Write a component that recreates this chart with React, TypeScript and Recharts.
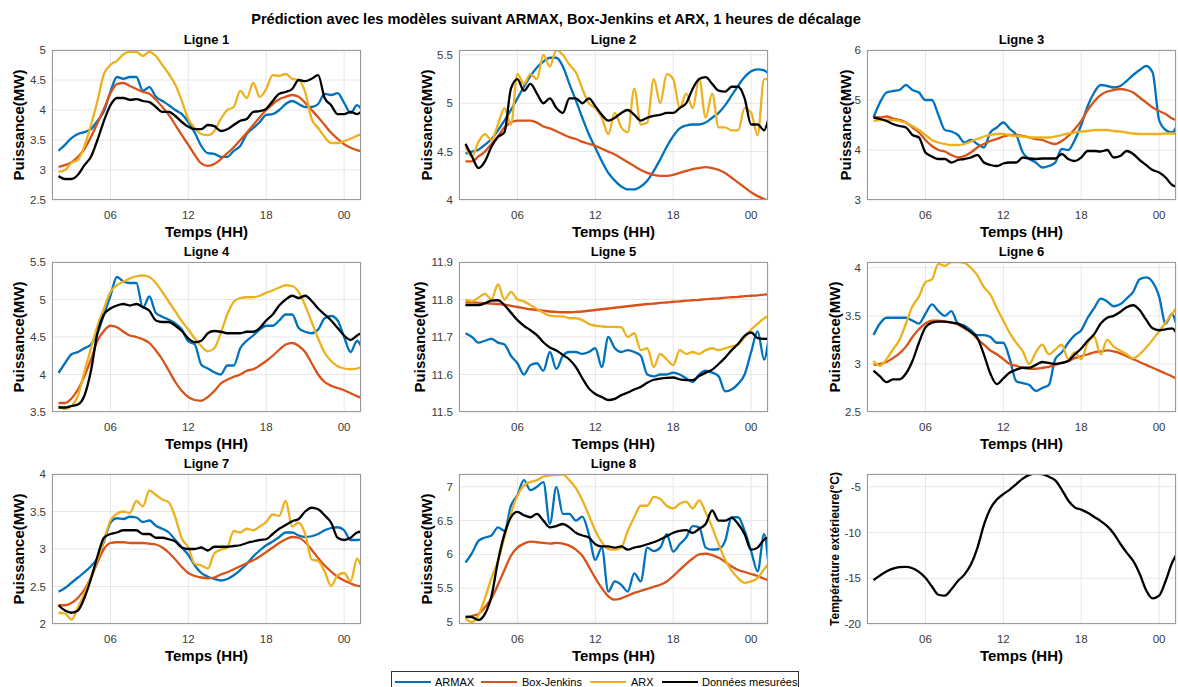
import React from 'react';
import { LineChart, Line, XAxis, YAxis, CartesianGrid } from 'recharts';

// ---------- data ----------
const TIMES = [2, 2.5, 3, 3.5, 4, 4.5, 5, 5.5, 6, 6.5, 7, 7.5, 8, 8.5, 9, 9.5, 10, 10.5, 11, 11.5, 12, 12.5, 13, 13.5, 14, 14.5, 15, 15.5, 16, 16.5, 17, 17.5, 18, 18.5, 19, 19.5, 20, 20.5, 21, 21.5, 22, 22.5, 23, 23.5, 24, 24.5, 25, 25.3];
const X_TICKS = [6, 12, 18, 24];
const X_TICK_LABELS = ['06', '12', '18', '00'];

const L1_ARMAX = [3.32, 3.42, 3.53, 3.6, 3.63, 3.68, 3.82, 3.98, 4.3, 4.55, 4.52, 4.55, 4.55, 4.32, 4.38, 4.22, 4.15, 4.08, 4.0, 3.93, 3.8, 3.62, 3.4, 3.28, 3.27, 3.22, 3.22, 3.32, 3.4, 3.6, 3.7, 3.8, 3.92, 3.93, 4.0, 4.1, 4.15, 4.1, 4.05, 4.05, 4.1, 4.27, 4.25, 4.28, 4.12, 3.95, 4.08, 4.02];
const L1_BJ = [3.05, 3.08, 3.13, 3.22, 3.35, 3.55, 3.78, 4.02, 4.28, 4.43, 4.45, 4.4, 4.35, 4.3, 4.27, 4.17, 4.05, 3.92, 3.75, 3.58, 3.42, 3.25, 3.11, 3.07, 3.1, 3.18, 3.28, 3.38, 3.5, 3.62, 3.75, 3.88, 4.0, 4.1, 4.18, 4.22, 4.25, 4.22, 4.12, 4.0, 3.88, 3.75, 3.62, 3.52, 3.43, 3.37, 3.33, 3.31];
const L1_ARX = [2.97, 3.0, 3.12, 3.17, 3.4, 3.75, 4.15, 4.6, 4.75, 4.82, 4.93, 4.97, 4.97, 4.9, 4.97, 4.9, 4.75, 4.6, 4.42, 4.15, 3.85, 3.7, 3.6, 3.58, 3.65, 3.85, 4.0, 4.05, 4.32, 4.2, 4.45, 4.22, 4.35, 4.58, 4.57, 4.6, 4.52, 4.5, 4.3, 3.85, 3.7, 3.55, 3.45, 3.45, 3.48, 3.52, 3.57, 3.6];
const L1_MES = [2.9, 2.85, 2.85, 2.92, 3.08, 3.22, 3.5, 3.82, 4.08, 4.2, 4.2, 4.17, 4.18, 4.15, 4.13, 4.05, 3.97, 3.97, 3.9, 3.8, 3.72, 3.68, 3.68, 3.75, 3.73, 3.65, 3.68, 3.75, 3.82, 3.85, 3.97, 3.98, 4.02, 4.15, 4.27, 4.3, 4.35, 4.5, 4.48, 4.52, 4.58, 4.2, 4.08, 3.93, 3.93, 3.97, 3.93, 3.97];

const L2_ARMAX = [4.48, 4.5, 4.52, 4.57, 4.63, 4.72, 4.82, 4.93, 5.05, 5.17, 5.28, 5.37, 5.43, 5.47, 5.47, 5.38, 5.2, 5.03, 4.85, 4.68, 4.54, 4.4, 4.28, 4.2, 4.14, 4.11, 4.11, 4.14, 4.2, 4.3, 4.42, 4.55, 4.66, 4.74, 4.77, 4.78, 4.78, 4.8, 4.85, 4.9, 4.98, 5.08, 5.18, 5.27, 5.33, 5.35, 5.34, 5.31];
const L2_BJ = [4.4, 4.4, 4.45, 4.5, 4.58, 4.66, 4.75, 4.8, 4.82, 4.82, 4.82, 4.8, 4.76, 4.74, 4.71, 4.68, 4.65, 4.63, 4.6, 4.58, 4.56, 4.53, 4.5, 4.47, 4.43, 4.39, 4.35, 4.31, 4.28, 4.26, 4.25, 4.25, 4.26, 4.28, 4.3, 4.32, 4.33, 4.34, 4.33, 4.31, 4.28, 4.23, 4.18, 4.13, 4.08, 4.04, 4.01, 4.0];
const L2_ARX = [4.55, 4.45, 4.6, 4.68, 4.62, 4.78, 4.95, 4.78, 5.3, 5.2, 5.3, 5.25, 5.5, 5.38, 5.55, 5.5, 5.4, 5.32, 5.15, 5.0, 4.95, 4.85, 4.68, 4.9, 4.75, 4.7, 5.15, 4.78, 4.8, 5.25, 5.0, 5.3, 5.25, 4.95, 5.1, 4.95, 5.25, 4.85, 5.1, 4.75, 4.75, 4.72, 4.72, 4.95, 4.9, 4.67, 5.25, 5.25];
const L2_MES = [4.58, 4.45, 4.33, 4.4, 4.55, 4.65, 4.7, 5.15, 5.25, 5.13, 5.2, 5.1, 5.0, 5.05, 4.95, 4.9, 5.05, 5.05, 5.0, 5.05, 4.97, 4.88, 4.82, 4.85, 4.9, 4.93, 4.88, 4.82, 4.85, 4.87, 4.88, 4.9, 4.9, 4.95, 5.0, 5.15, 5.25, 5.27, 5.2, 5.13, 5.12, 5.17, 5.17, 5.05, 4.78, 4.78, 4.72, 4.82];

const L3_ARMAX = [4.65, 4.95, 5.15, 5.18, 5.2, 5.3, 5.2, 5.15, 5.0, 5.0, 4.7, 4.4, 4.37, 4.3, 4.15, 4.2, 4.12, 4.05, 4.35, 4.45, 4.55, 4.42, 4.3, 3.95, 3.82, 3.75, 3.65, 3.68, 3.75, 4.02, 4.0, 4.2, 4.5, 4.88, 5.15, 5.3, 5.28, 5.25, 5.28, 5.38, 5.5, 5.6, 5.68, 5.55, 4.6, 4.4, 4.35, 4.45];
const L3_BJ = [4.65, 4.65, 4.67, 4.63, 4.6, 4.55, 4.45, 4.35, 4.2, 4.08, 4.0, 3.97, 3.9, 3.85, 3.88, 3.95, 4.05, 4.12, 4.18, 4.22, 4.27, 4.3, 4.3, 4.28, 4.25, 4.22, 4.2, 4.15, 4.12, 4.18, 4.28, 4.42, 4.58, 4.8, 4.97, 5.1, 5.17, 5.2, 5.22, 5.2, 5.15, 5.05, 4.95, 4.85, 4.78, 4.72, 4.63, 4.6];
const L3_ARX = [4.58, 4.6, 4.6, 4.6, 4.58, 4.55, 4.48, 4.4, 4.3, 4.2, 4.15, 4.12, 4.1, 4.1, 4.12, 4.17, 4.22, 4.27, 4.3, 4.32, 4.32, 4.3, 4.28, 4.27, 4.25, 4.25, 4.25, 4.25, 4.27, 4.3, 4.33, 4.35, 4.37, 4.38, 4.4, 4.4, 4.4, 4.38, 4.37, 4.35, 4.33, 4.32, 4.32, 4.32, 4.32, 4.33, 4.33, 4.33];
const L3_MES = [4.65, 4.62, 4.58, 4.52, 4.48, 4.45, 4.3, 4.25, 3.95, 3.87, 3.82, 3.82, 3.75, 3.8, 3.82, 3.85, 3.9, 3.75, 3.7, 3.68, 3.73, 3.75, 3.75, 3.85, 3.83, 3.82, 3.83, 3.83, 3.83, 3.92, 3.82, 3.78, 3.85, 3.98, 3.98, 3.97, 4.0, 3.85, 3.88, 3.98, 3.92, 3.8, 3.7, 3.6, 3.55, 3.45, 3.3, 3.27];

const L4_ARMAX = [4.02, 4.15, 4.27, 4.3, 4.35, 4.4, 4.55, 4.8, 5.05, 5.3, 5.24, 5.22, 5.22, 4.89, 5.04, 4.82, 4.77, 4.73, 4.68, 4.6, 4.44, 4.4, 4.13, 4.08, 4.03, 4.0, 4.12, 4.12, 4.35, 4.45, 4.52, 4.6, 4.65, 4.65, 4.72, 4.8, 4.8, 4.62, 4.57, 4.55, 4.6, 4.75, 4.78, 4.72, 4.5, 4.3, 4.45, 4.38];
const L4_BJ = [3.62, 3.62, 3.68, 3.8, 3.98, 4.2, 4.45, 4.58, 4.65, 4.63, 4.57, 4.52, 4.5, 4.47, 4.42, 4.32, 4.2, 4.05, 3.9, 3.78, 3.7, 3.66, 3.65, 3.7, 3.78, 3.88, 3.93, 3.97, 4.0, 4.05, 4.07, 4.12, 4.18, 4.25, 4.33, 4.4, 4.42, 4.38, 4.3, 4.15, 4.0, 3.9, 3.85, 3.82, 3.79, 3.75, 3.71, 3.69];
const L4_ARX = [3.58, 3.54, 3.58, 3.72, 4.04, 4.35, 4.65, 4.88, 5.1, 5.19, 5.24, 5.28, 5.31, 5.32, 5.3, 5.22, 5.1, 4.97, 4.84, 4.71, 4.6, 4.48, 4.38, 4.31, 4.35, 4.55, 4.8, 4.97, 5.02, 5.03, 5.03, 5.05, 5.09, 5.12, 5.16, 5.19, 5.18, 5.1, 4.92, 4.7, 4.48, 4.29, 4.18, 4.11, 4.08, 4.07, 4.08, 4.1];
const L4_MES = [3.56, 3.56, 3.58, 3.6, 3.72, 4.05, 4.55, 4.8, 4.88, 4.92, 4.94, 4.92, 4.94, 4.9, 4.85, 4.72, 4.7, 4.7, 4.65, 4.58, 4.48, 4.43, 4.45, 4.55, 4.58, 4.57, 4.55, 4.55, 4.55, 4.57, 4.57, 4.62, 4.72, 4.8, 4.92, 5.0, 5.05, 5.02, 5.05, 4.98, 4.88, 4.8, 4.72, 4.62, 4.52, 4.46, 4.52, 4.55];

const L5_ARMAX = [11.71, 11.7, 11.685, 11.69, 11.695, 11.685, 11.68, 11.65, 11.63, 11.6, 11.625, 11.63, 11.61, 11.66, 11.615, 11.65, 11.66, 11.66, 11.655, 11.66, 11.67, 11.62, 11.7, 11.67, 11.66, 11.665, 11.66, 11.65, 11.6, 11.595, 11.6, 11.6, 11.605, 11.6, 11.59, 11.58, 11.6, 11.61, 11.605, 11.595, 11.555, 11.56, 11.575, 11.6, 11.66, 11.715, 11.64, 11.685];
const L5_BJ = [11.792, 11.792, 11.791, 11.79, 11.789, 11.788, 11.786, 11.783, 11.78, 11.777, 11.774, 11.772, 11.77, 11.768, 11.767, 11.766, 11.766, 11.767, 11.768, 11.77, 11.772, 11.774, 11.776, 11.778, 11.78, 11.782, 11.784, 11.786, 11.788, 11.789, 11.791, 11.792, 11.794, 11.795, 11.797, 11.798, 11.799, 11.801, 11.802, 11.803, 11.805, 11.806, 11.807, 11.809, 11.81, 11.811, 11.813, 11.814];
const L5_ARX = [11.8, 11.795, 11.805, 11.815, 11.8, 11.84, 11.8, 11.82, 11.8, 11.795, 11.785, 11.775, 11.765, 11.757, 11.755, 11.755, 11.75, 11.75, 11.745, 11.735, 11.73, 11.728, 11.727, 11.727, 11.726, 11.7, 11.71, 11.665, 11.67, 11.62, 11.655, 11.64, 11.625, 11.665, 11.655, 11.66, 11.655, 11.665, 11.67, 11.665, 11.67, 11.675, 11.68, 11.7, 11.72, 11.735, 11.75, 11.755];
const L5_MES = [11.785, 11.785, 11.785, 11.79, 11.797, 11.798, 11.785, 11.765, 11.745, 11.73, 11.718, 11.705, 11.686, 11.672, 11.664, 11.652, 11.64, 11.62, 11.59, 11.563, 11.548, 11.54, 11.532, 11.535, 11.545, 11.552, 11.56, 11.567, 11.578, 11.586, 11.589, 11.591, 11.592, 11.587, 11.585, 11.585, 11.596, 11.605, 11.613, 11.628, 11.645, 11.665, 11.682, 11.703, 11.712, 11.697, 11.695, 11.695];

const L6_ARMAX = [3.3, 3.42, 3.48, 3.48, 3.48, 3.48, 3.45, 3.42, 3.52, 3.62, 3.55, 3.5, 3.55, 3.42, 3.4, 3.35, 3.3, 3.3, 3.28, 3.22, 3.22, 3.05, 2.82, 2.8, 2.78, 2.72, 2.75, 2.78, 3.05, 3.12, 3.22, 3.3, 3.35, 3.48, 3.58, 3.68, 3.65, 3.6, 3.62, 3.68, 3.75, 3.88, 3.9, 3.85, 3.7, 3.42, 3.52, 3.42];
const L6_BJ = [2.99, 3.0, 3.02, 3.06, 3.11, 3.18, 3.28, 3.36, 3.42, 3.45, 3.45, 3.44, 3.43, 3.41, 3.37, 3.33, 3.26, 3.2, 3.14, 3.1, 3.05, 3.0, 2.98, 2.96, 2.95, 2.95, 2.96, 2.97, 2.99, 3.01, 3.03, 3.06, 3.08, 3.1, 3.12, 3.13, 3.14, 3.13, 3.11, 3.08, 3.05, 3.02, 2.99, 2.96, 2.93, 2.9, 2.87, 2.85];
const L6_ARX = [3.03, 2.98, 3.05, 3.15, 3.25, 3.42, 3.6, 3.7, 3.85, 3.88, 4.04, 4.02, 4.06, 4.06, 4.05, 4.0, 3.92, 3.8, 3.72, 3.58, 3.45, 3.32, 3.22, 3.13, 3.0, 3.12, 3.2, 3.1, 3.15, 3.2, 3.05, 3.12, 3.05, 3.22, 3.28, 3.1, 3.25, 3.18, 3.14, 3.1, 3.06, 3.1, 3.17, 3.25, 3.34, 3.43, 3.52, 3.58];
const L6_MES = [2.93, 2.87, 2.81, 2.84, 2.84, 2.9, 3.03, 3.22, 3.38, 3.43, 3.44, 3.44, 3.43, 3.42, 3.38, 3.33, 3.27, 3.1, 2.9, 2.79, 2.85, 2.91, 2.94, 2.96, 2.96, 2.99, 3.02, 3.01, 3.0, 3.01, 3.03, 3.1, 3.16, 3.24, 3.31, 3.42, 3.48, 3.5, 3.54, 3.59, 3.61, 3.56, 3.46, 3.37, 3.35, 3.36, 3.37, 3.33];

const L7_ARMAX = [2.43, 2.48, 2.55, 2.62, 2.69, 2.77, 2.88, 3.1, 3.35, 3.41, 3.4, 3.43, 3.42, 3.36, 3.38, 3.31, 3.27, 3.22, 3.12, 3.02, 2.92, 2.78, 2.68, 2.63, 2.6, 2.58, 2.6, 2.65, 2.72, 2.8, 2.9, 2.98, 3.05, 3.1, 3.16, 3.22, 3.22, 3.18, 3.16, 3.17, 3.2, 3.25, 3.28, 3.29, 3.25, 3.12, 3.12, 3.13];
const L7_BJ = [2.25, 2.25, 2.28, 2.35, 2.46, 2.62, 2.82, 3.0, 3.08, 3.09, 3.09, 3.08, 3.08, 3.08, 3.07, 3.06, 3.02, 2.95, 2.86, 2.76, 2.68, 2.64, 2.62, 2.61, 2.62, 2.66, 2.69, 2.73, 2.77, 2.81, 2.85, 2.9, 2.96, 3.02, 3.08, 3.13, 3.16, 3.15, 3.09, 2.99, 2.88, 2.78, 2.7, 2.63, 2.58, 2.54, 2.51, 2.5];
const L7_ARX = [2.15, 2.14, 2.06, 2.22, 2.41, 2.62, 2.86, 3.12, 3.38, 3.47, 3.5, 3.48, 3.64, 3.57, 3.78, 3.72, 3.66, 3.62, 3.42, 3.14, 3.02, 2.8, 2.78, 2.74, 2.94, 2.99, 3.02, 3.24, 3.22, 3.27, 3.25, 3.3, 3.36, 3.46, 3.44, 3.64, 3.3, 3.35, 3.2, 2.86, 2.84, 2.7, 2.51, 2.65, 2.68, 2.57, 2.87, 2.78];
const L7_MES = [2.25, 2.18, 2.15, 2.18, 2.35, 2.6, 2.9, 3.15, 3.2, 3.22, 3.25, 3.25, 3.25, 3.2, 3.2, 3.15, 3.15, 3.13, 3.1, 3.02, 3.0, 3.0, 3.02, 2.98, 3.03, 3.03, 3.03, 3.04, 3.05, 3.08, 3.1, 3.12, 3.13, 3.2, 3.27, 3.32, 3.37, 3.4, 3.5, 3.55, 3.53, 3.45, 3.35, 3.15, 3.12, 3.15, 3.22, 3.23];

const L8_ARMAX = [5.88, 6.02, 6.2, 6.25, 6.28, 6.4, 6.35, 6.72, 6.88, 7.1, 6.95, 7.0, 7.07, 6.45, 7.0, 6.6, 6.6, 6.5, 6.56, 6.3, 5.92, 6.1, 5.45, 5.6, 5.55, 5.45, 5.72, 5.6, 6.1, 6.05, 6.1, 6.3, 6.04, 6.15, 6.25, 6.42, 6.4, 6.1, 6.07, 6.08, 6.2, 6.55, 6.55, 6.35, 6.05, 5.75, 6.3, 5.92];
const L8_BJ = [5.06, 5.09, 5.12, 5.22, 5.35, 5.55, 5.77, 5.98, 6.1, 6.16, 6.19, 6.18, 6.17, 6.16, 6.17, 6.16, 6.13, 6.07, 5.98, 5.82, 5.65, 5.5, 5.38, 5.33, 5.35, 5.39, 5.43, 5.46, 5.49, 5.52, 5.55, 5.6, 5.68, 5.77, 5.86, 5.94, 6.0, 6.01, 5.99, 5.95, 5.89, 5.82, 5.77, 5.74, 5.71, 5.68, 5.64, 5.62];
const L8_ARX = [5.05, 5.0, 5.1, 5.35, 5.65, 5.9, 6.25, 6.6, 6.87, 7.02, 7.07, 7.1, 7.15, 7.17, 7.18, 7.18, 7.1, 6.98, 6.8, 6.58, 6.35, 6.18, 6.08, 6.07, 6.1, 6.35, 6.55, 6.72, 6.72, 6.85, 6.82, 6.72, 6.68, 6.75, 6.78, 6.68, 6.8, 6.62, 6.4, 6.15, 5.92, 5.76, 5.65, 5.58, 5.6, 5.65, 5.78, 5.85];
const L8_MES = [5.08, 5.07, 5.03, 5.12, 5.38, 5.9, 6.3, 6.55, 6.63, 6.58, 6.55, 6.6, 6.5, 6.4, 6.42, 6.45, 6.4, 6.32, 6.28, 6.25, 6.15, 6.12, 6.12, 6.1, 6.12, 6.07, 6.1, 6.12, 6.15, 6.18, 6.22, 6.27, 6.32, 6.35, 6.36, 6.32, 6.38, 6.45, 6.65, 6.5, 6.5, 6.54, 6.45, 6.3, 6.07, 6.1, 6.22, 6.25];

const TEMP = [-15.2, -14.7, -14.25, -13.95, -13.78, -13.75, -13.9, -14.3, -14.95, -15.9, -16.8, -16.9, -16.2, -15.3, -14.6, -13.5, -11.7, -9.2, -7.4, -6.4, -5.8, -5.3, -4.7, -4.1, -3.7, -3.56, -3.62, -3.9, -4.3, -5.3, -6.5, -7.25, -7.5, -7.85, -8.3, -8.75, -9.3, -10.1, -11.2, -12.2, -13.1, -14.5, -16.3, -17.2, -16.9, -15.3, -13.3, -12.5];

const Y1_TICKS = [2.5, 3, 3.5, 4, 4.5, 5];
const Y2_TICKS = [4, 4.5, 5, 5.5];
const Y3_TICKS = [3, 4, 5, 6];
const Y4_TICKS = [3.5, 4, 4.5, 5, 5.5];
const Y5_TICKS = [11.5, 11.6, 11.7, 11.8, 11.9];
const Y6_TICKS = [2.5, 3, 3.5, 4];
const Y7_TICKS = [2, 2.5, 3, 3.5, 4];
const Y8_TICKS = [5, 5.5, 6, 6.5, 7];
const Y9_TICKS = [-20, -15, -10, -5];

const SERIES_NAMES = ['ARMAX', 'Box-Jenkins', 'ARX', 'Données mesurées'];
const SERIES_COLORS = ['#0072BD', '#D95319', '#EDB120', '#000000'];

// ---------- layout ----------
const FONT = '"Liberation Sans", Arial, Helvetica, sans-serif';
const COLS = [52, 459, 867];
const ROWS = [50, 262, 474];
const PW = 309;
const PH = 150;
const PAD_L = 60;
const PAD_T = 10;
const PAD_R = 6;
const PAD_B = 40;
const X_DOMAIN: [number, number] = [1.5, 25.3];

type PanelDef = {
  title?: string;
  col: number;
  row: number;
  yDomain: [number, number];
  yTicks: number[];
  series: number[][];
  ylabel: string;
  ylx: number;
  ylSize: number;
};

const PANELS: PanelDef[] = [
  { title: 'Ligne 1', col: 0, row: 0, yDomain: [2.5, 5], yTicks: Y1_TICKS, series: [L1_ARMAX, L1_BJ, L1_ARX, L1_MES], ylabel: 'Puissance(MW)', ylx: 19, ylSize: 15 },
  { title: 'Ligne 2', col: 1, row: 0, yDomain: [4, 5.55], yTicks: Y2_TICKS, series: [L2_ARMAX, L2_BJ, L2_ARX, L2_MES], ylabel: 'Puissance(MW)', ylx: 427, ylSize: 15 },
  { title: 'Ligne 3', col: 2, row: 0, yDomain: [3, 6], yTicks: Y3_TICKS, series: [L3_ARMAX, L3_BJ, L3_ARX, L3_MES], ylabel: 'Puissance(MW)', ylx: 846, ylSize: 15 },
  { title: 'Ligne 4', col: 0, row: 1, yDomain: [3.5, 5.5], yTicks: Y4_TICKS, series: [L4_ARMAX, L4_BJ, L4_ARX, L4_MES], ylabel: 'Puissance(MW)', ylx: 19, ylSize: 15 },
  { title: 'Ligne 5', col: 1, row: 1, yDomain: [11.5, 11.9], yTicks: Y5_TICKS, series: [L5_ARMAX, L5_BJ, L5_ARX, L5_MES], ylabel: 'Puissance(MW)', ylx: 420, ylSize: 15 },
  { title: 'Ligne 6', col: 2, row: 1, yDomain: [2.5, 4.06], yTicks: Y6_TICKS, series: [L6_ARMAX, L6_BJ, L6_ARX, L6_MES], ylabel: 'Puissance(MW)', ylx: 835, ylSize: 15 },
  { title: 'Ligne 7', col: 0, row: 2, yDomain: [2, 4], yTicks: Y7_TICKS, series: [L7_ARMAX, L7_BJ, L7_ARX, L7_MES], ylabel: 'Puissance(MW)', ylx: 19, ylSize: 15 },
  { title: 'Ligne 8', col: 1, row: 2, yDomain: [4.97, 7.19], yTicks: Y8_TICKS, series: [L8_ARMAX, L8_BJ, L8_ARX, L8_MES], ylabel: 'Puissance(MW)', ylx: 427, ylSize: 15 },
  { col: 2, row: 2, yDomain: [-20, -3.6], yTicks: Y9_TICKS, series: [TEMP], ylabel: 'Température extérieure(°C)', ylx: 835, ylSize: 12 },
];

const fmtX = (v: number) => {
  const i = X_TICKS.indexOf(v);
  return i >= 0 ? X_TICK_LABELS[i] : String(v);
};

function Panel({ p }: { p: PanelDef }) {
  const left = COLS[p.col];
  const top = ROWS[p.row];
  const keys = p.series.length === 1 ? ['s3'] : ['s0', 's1', 's2', 's3'];
  const data = TIMES.map((t, i) => {
    const row: Record<string, number> = { t };
    p.series.forEach((arr, k) => {
      row[keys[k]] = arr[i];
    });
    return row;
  });
  const tickStyle = { fontSize: 11.5, fill: '#3a3a3a', fontFamily: FONT };
  return (
    <>
      <div style={{ position: 'absolute', left: left - PAD_L, top: top - PAD_T }}>
        <LineChart
          width={PAD_L + PW + PAD_R}
          height={PAD_T + PH + PAD_B}
          data={data}
          margin={{ top: PAD_T, right: PAD_R, bottom: 0, left: 0 }}
        >
          <CartesianGrid stroke="#e6e6e6" strokeWidth={1} />
          <XAxis
            dataKey="t"
            type="number"
            domain={X_DOMAIN}
            ticks={X_TICKS}
            tickFormatter={fmtX}
            allowDataOverflow
            axisLine={false}
            tickLine={false}
            tickMargin={5}
            height={PAD_B}
            interval={0}
            tick={tickStyle}
          />
          <YAxis
            type="number"
            domain={p.yDomain}
            ticks={p.yTicks}
            allowDataOverflow
            axisLine={false}
            tickLine={false}
            tickMargin={0}
            width={PAD_L}
            interval={0}
            tick={tickStyle}
          />
          {keys.map((k) => {
            const idx = Number(k.slice(1));
            return (
              <Line
                key={k}
                dataKey={k}
                type="monotone"
                stroke={SERIES_COLORS[idx]}
                strokeWidth={2.3}
                dot={false}
                activeDot={false}
                isAnimationActive={false}
              />
            );
          })}
        </LineChart>
      </div>
      <div
        style={{
          position: 'absolute',
          left,
          top,
          width: PW,
          height: PH,
          border: '1px solid #9a9a9a',
          boxSizing: 'border-box',
          pointerEvents: 'none',
        }}
      />
      {p.title && (
        <div
          style={{
            position: 'absolute',
            left,
            top: top - 18,
            width: PW,
            lineHeight: '16px',
            textAlign: 'center',
            fontSize: 13,
            fontWeight: 'bold',
            color: '#000',
          }}
        >
          {p.title}
        </div>
      )}
      <div
        style={{
          position: 'absolute',
          left,
          top: top + PH + 23,
          width: PW,
          lineHeight: '18px',
          textAlign: 'center',
          fontSize: 15,
          fontWeight: 'bold',
          color: '#000',
        }}
      >
        Temps (HH)
      </div>
      <div
        style={{
          position: 'absolute',
          left: p.ylx - 110,
          top: top + PH / 2 - 10,
          width: 220,
          height: 20,
          lineHeight: '20px',
          textAlign: 'center',
          fontSize: p.ylSize,
          fontWeight: 'bold',
          color: '#000',
          transform: 'rotate(-90deg)',
          transformOrigin: 'center center',
          whiteSpace: 'nowrap',
        }}
      >
        {p.ylabel}
      </div>
    </>
  );
}

function Legend() {
  const items = [
    { lx: 395, lw: 36, tx: 435 },
    { lx: 481, lw: 36, tx: 522 },
    { lx: 590, lw: 36, tx: 631 },
    { lx: 662, lw: 36, tx: 702 },
  ];
  return (
    <>
      <div
        style={{
          position: 'absolute',
          left: 391,
          top: 671,
          width: 408,
          height: 30,
          border: '1px solid #333',
          boxSizing: 'border-box',
          background: '#fff',
        }}
      />
      {items.map((it, i) => (
        <React.Fragment key={i}>
          <div
            style={{
              position: 'absolute',
              left: it.lx,
              top: 681,
              width: it.lw,
              height: 2,
              background: SERIES_COLORS[i],
            }}
          />
          <div
            style={{
              position: 'absolute',
              left: it.tx,
              top: 675,
              lineHeight: '14px',
              fontSize: 11,
              color: '#000',
              whiteSpace: 'nowrap',
            }}
          >
            {SERIES_NAMES[i]}
          </div>
        </React.Fragment>
      ))}
    </>
  );
}

export default function App() {
  return (
    <div
      style={{
        position: 'absolute',
        left: 0,
        top: 0,
        width: 1178,
        height: 687,
        overflow: 'hidden',
        background: '#fff',
        fontFamily: FONT,
      }}
    >
      <div
        style={{
          position: 'absolute',
          left: 0,
          top: 10,
          width: 1112,
          lineHeight: '18px',
          textAlign: 'center',
          fontSize: 14.6,
          fontWeight: 'bold',
          color: '#000',
          whiteSpace: 'nowrap',
        }}
      >
        Prédiction avec les modèles suivant ARMAX, Box-Jenkins et ARX, 1 heures de décalage
      </div>
      {PANELS.map((p, i) => (
        <Panel key={i} p={p} />
      ))}
      <Legend />
    </div>
  );
}
